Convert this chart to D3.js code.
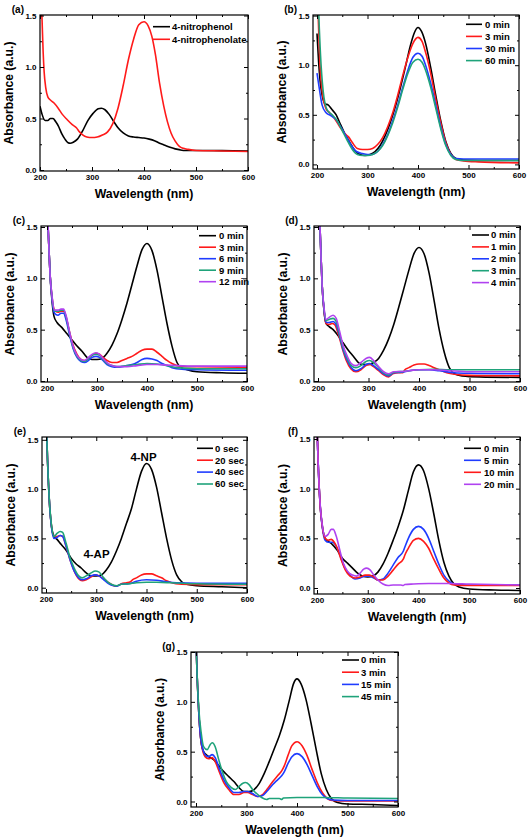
<!DOCTYPE html>
<html><head><meta charset="utf-8">
<script src="https://cdnjs.cloudflare.com/ajax/libs/d3/7.8.5/d3.min.js"></script>
<style>
html,body{margin:0;padding:0;background:#fff;}
svg{display:block;font-family:"Liberation Sans",Arial,sans-serif;font-weight:bold;}
</style></head>
<body>
<svg id="chart" width="529" height="840"></svg>
<script>
// ---------------- DATA ----------------
const panelLabels = ["(a)","(b)","(c)","(d)","(e)","(f)","(g)"];
const xMajorTicks = [200,300,400,500,600];
const xMinorTicks = [250,350,450,550];
const yMajorTicks = [0,0.5,1.0,1.5];
const yMinorTicks = [0.25,0.75,1.25];
const xTitle = "Wavelength (nm)";
const yTitle = "Absorbance (a.u.)";
const seriesColors = {black:"#000000", red:"#ff1a1a", blue:"#1f3cff", green:"#1fa37a", violet:"#b042f0"};

// (a)
const aNames = ["4-nitrophenol","4-nitrophenolate"];
const aNitrophenol = [[200,0.62],[204,0.54],[210,0.48],[215,0.48],[220,0.5],[225,0.5],[230,0.47],[236,0.42],[242,0.35],[248,0.3],[254,0.265],[258,0.26],[264,0.27],[272,0.3],[282,0.38],[292,0.48],[302,0.55],[312,0.595],[318,0.6],[325,0.585],[333,0.54],[342,0.47],[350,0.41],[360,0.36],[370,0.33],[380,0.32],[390,0.315],[400,0.31],[410,0.3],[420,0.285],[430,0.26],[440,0.24],[450,0.22],[460,0.205],[470,0.195],[480,0.19],[500,0.19],[550,0.188],[600,0.185]];
const aNitrophenolate = [[202,1.7],[204,1.45],[206,1.15],[208,0.95],[211,0.8],[215,0.71],[220,0.68],[227,0.65],[235,0.6],[243,0.54],[252,0.49],[262,0.44],[270,0.41],[276,0.37],[282,0.34],[290,0.32],[300,0.315],[310,0.32],[320,0.34],[330,0.37],[340,0.45],[350,0.6],[360,0.82],[370,1.07],[380,1.27],[390,1.41],[400,1.44],[408,1.4],[415,1.3],[422,1.12],[430,0.84],[438,0.62],[445,0.47],[452,0.36],[460,0.28],[468,0.23],[476,0.21],[485,0.2],[500,0.19],[550,0.185],[600,0.18]];

// (b)
const bNames = ["0 min","3 min","30 min","60 min"];
const bMin0 = [[200,1.32],[203,1.05],[206,0.85],[210,0.7],[216,0.61],[222,0.6],[230,0.55],[238,0.5],[245,0.42],[255,0.31],[265,0.22],[275,0.14],[285,0.1],[295,0.09],[305,0.1],[315,0.13],[325,0.19],[335,0.29],[345,0.42],[355,0.58],[365,0.77],[375,0.98],[385,1.2],[393,1.33],[400,1.38],[407,1.34],[415,1.22],[425,0.98],[435,0.7],[445,0.44],[455,0.23],[465,0.11],[475,0.06],[490,0.045],[520,0.04],[600,0.04]];
const bMin3 = [[201,1.7],[203,1.4],[205,1.1],[210,0.75],[218,0.56],[225,0.52],[235,0.46],[245,0.38],[255,0.31],[262,0.28],[270,0.22],[280,0.16],[290,0.15],[300,0.15],[310,0.16],[320,0.2],[330,0.27],[340,0.38],[350,0.52],[360,0.7],[370,0.9],[380,1.08],[390,1.22],[400,1.28],[408,1.24],[415,1.13],[425,0.92],[435,0.66],[445,0.42],[455,0.22],[465,0.1],[475,0.05],[490,0.035],[520,0.025],[600,0.015]];
const bMin30 = [[200,0.92],[205,0.75],[210,0.6],[218,0.52],[228,0.49],[238,0.45],[248,0.37],[258,0.28],[268,0.19],[278,0.13],[290,0.11],[300,0.1],[310,0.1],[320,0.13],[330,0.2],[340,0.3],[350,0.44],[360,0.6],[370,0.78],[380,0.95],[390,1.08],[400,1.12],[408,1.09],[415,1.0],[425,0.82],[435,0.6],[445,0.38],[455,0.2],[465,0.1],[475,0.06],[490,0.055],[600,0.055]];
const bMin60 = [[202,1.8],[204,1.45],[207,1.1],[212,0.75],[220,0.55],[230,0.5],[240,0.44],[250,0.34],[260,0.24],[270,0.15],[280,0.1],[290,0.09],[300,0.09],[310,0.1],[320,0.13],[330,0.19],[340,0.29],[350,0.42],[360,0.58],[370,0.76],[380,0.92],[390,1.03],[400,1.06],[408,1.03],[415,0.95],[425,0.78],[435,0.57],[445,0.36],[455,0.19],[465,0.09],[475,0.05],[490,0.04],[600,0.04]];

// (c)
const cNames = ["0 min","3 min","6 min","9 min","12 min"];
const cMin0 = [[200,1.8],[203,1.4],[206,1.05],[210,0.78],[214,0.63],[220,0.57],[230,0.52],[240,0.46],[250,0.4],[260,0.34],[270,0.29],[280,0.23],[290,0.21],[300,0.21],[310,0.22],[320,0.27],[330,0.35],[340,0.46],[350,0.6],[360,0.76],[370,0.94],[380,1.12],[390,1.28],[400,1.34],[410,1.27],[420,1.08],[430,0.82],[440,0.56],[450,0.34],[460,0.18],[468,0.13],[480,0.11],[500,0.09],[550,0.08],[600,0.075]];
const cMin3 = [[200,1.8],[203,1.4],[206,1.05],[210,0.82],[215,0.69],[222,0.67],[228,0.68],[233,0.68],[238,0.62],[245,0.48],[252,0.35],[260,0.26],[268,0.21],[275,0.2],[283,0.22],[290,0.25],[298,0.27],[305,0.26],[312,0.23],[320,0.2],[330,0.18],[340,0.18],[350,0.2],[360,0.22],[370,0.24],[380,0.27],[390,0.3],[400,0.31],[410,0.31],[420,0.28],[430,0.24],[440,0.2],[450,0.17],[460,0.15],[480,0.14],[500,0.14],[600,0.135]];
const cMin6 = [[200,1.8],[203,1.4],[206,1.05],[210,0.8],[215,0.66],[222,0.64],[228,0.66],[233,0.66],[238,0.6],[245,0.45],[252,0.32],[260,0.23],[268,0.19],[275,0.18],[283,0.2],[290,0.23],[298,0.24],[305,0.23],[312,0.2],[320,0.16],[330,0.14],[340,0.135],[350,0.14],[360,0.15],[370,0.16],[380,0.18],[390,0.21],[400,0.22],[410,0.215],[420,0.2],[430,0.17],[440,0.15],[450,0.13],[470,0.115],[500,0.11],[600,0.105]];
const cMin9 = [[200,1.8],[203,1.4],[206,1.05],[210,0.82],[215,0.68],[222,0.68],[228,0.69],[233,0.69],[238,0.63],[245,0.47],[252,0.33],[260,0.24],[268,0.2],[275,0.19],[283,0.22],[290,0.25],[298,0.26],[305,0.25],[312,0.21],[320,0.17],[330,0.15],[340,0.14],[360,0.15],[380,0.16],[400,0.17],[420,0.165],[440,0.15],[460,0.13],[500,0.12],[600,0.12]];
const cMin12 = [[200,1.8],[203,1.4],[206,1.05],[210,0.83],[215,0.69],[222,0.69],[228,0.7],[233,0.7],[238,0.64],[245,0.48],[252,0.34],[260,0.25],[268,0.21],[275,0.2],[283,0.23],[290,0.26],[298,0.275],[305,0.26],[312,0.22],[320,0.18],[330,0.15],[340,0.14],[360,0.14],[380,0.15],[400,0.16],[420,0.16],[440,0.155],[460,0.15],[500,0.145],[600,0.145]];

// (d)
const dNames = ["0 min","1 min","2 min","3 min","4 min"];
const dMin0 = [[202,1.8],[205,1.35],[208,0.95],[212,0.68],[216,0.56],[222,0.53],[230,0.5],[240,0.44],[250,0.37],[260,0.3],[270,0.24],[280,0.18],[290,0.16],[300,0.16],[310,0.18],[320,0.22],[330,0.3],[340,0.41],[350,0.55],[360,0.72],[370,0.9],[380,1.08],[390,1.24],[400,1.3],[410,1.24],[420,1.05],[430,0.78],[440,0.5],[450,0.28],[460,0.13],[470,0.07],[485,0.05],[520,0.04],[600,0.035]];
const dMin1 = [[202,1.8],[205,1.35],[208,0.95],[212,0.68],[216,0.56],[222,0.55],[228,0.56],[233,0.55],[240,0.46],[248,0.32],[256,0.2],[265,0.12],[275,0.09],[285,0.11],[295,0.15],[302,0.16],[310,0.14],[320,0.1],[330,0.06],[340,0.04],[348,0.07],[360,0.08],[368,0.08],[372,0.11],[380,0.13],[390,0.155],[400,0.165],[410,0.165],[420,0.15],[430,0.13],[440,0.11],[455,0.08],[470,0.065],[500,0.055],[600,0.05]];
const dMin2 = [[202,1.8],[205,1.35],[208,0.95],[212,0.69],[216,0.57],[222,0.57],[230,0.58],[236,0.55],[242,0.45],[250,0.3],[258,0.2],[266,0.13],[275,0.1],[285,0.12],[295,0.16],[302,0.17],[310,0.15],[320,0.11],[330,0.07],[340,0.05],[350,0.08],[365,0.085],[372,0.09],[380,0.1],[400,0.11],[420,0.11],[440,0.1],[470,0.08],[500,0.075],[600,0.07]];
const dMin3 = [[202,1.8],[205,1.35],[208,0.95],[212,0.7],[216,0.59],[222,0.6],[230,0.61],[236,0.58],[242,0.47],[250,0.32],[258,0.22],[266,0.15],[275,0.13],[285,0.15],[295,0.19],[302,0.2],[310,0.18],[320,0.13],[330,0.08],[340,0.06],[350,0.085],[372,0.095],[380,0.1],[400,0.11],[430,0.115],[460,0.11],[500,0.11],[600,0.11]];
const dMin4 = [[202,1.8],[205,1.35],[208,0.95],[212,0.71],[216,0.6],[222,0.62],[230,0.64],[236,0.61],[242,0.5],[250,0.34],[258,0.24],[266,0.17],[275,0.15],[285,0.18],[295,0.22],[302,0.23],[310,0.2],[320,0.14],[330,0.09],[340,0.07],[350,0.09],[372,0.095],[380,0.1],[400,0.11],[430,0.11],[460,0.1],[500,0.09],[600,0.09]];

// (e)
const eNames = ["0 sec","20 sec","40 sec","60 sec"];
const eNotes = ["4-NP","4-AP"];
const eSec0 = [[200,1.8],[203,1.3],[207,0.85],[211,0.62],[216,0.52],[222,0.49],[230,0.44],[240,0.38],[250,0.3],[260,0.24],[270,0.2],[280,0.15],[290,0.12],[300,0.12],[310,0.13],[320,0.18],[330,0.26],[340,0.37],[350,0.5],[360,0.65],[370,0.8],[380,1.0],[390,1.18],[400,1.26],[410,1.2],[420,1.02],[430,0.76],[440,0.5],[450,0.28],[460,0.13],[470,0.06],[480,0.035],[500,0.02],[550,0.01],[600,0.0]];
const eSec20 = [[200,1.8],[203,1.3],[207,0.85],[211,0.62],[216,0.52],[222,0.52],[228,0.53],[233,0.52],[240,0.42],[248,0.28],[256,0.17],[265,0.09],[272,0.07],[280,0.08],[290,0.11],[298,0.13],[305,0.12],[315,0.09],[325,0.05],[335,0.02],[340,0.015],[350,0.04],[360,0.05],[368,0.06],[372,0.08],[380,0.1],[390,0.13],[400,0.14],[410,0.14],[420,0.12],[430,0.1],[440,0.07],[450,0.05],[470,0.035],[500,0.03],[600,0.03]];
const eSec40 = [[200,1.8],[203,1.3],[207,0.85],[211,0.61],[216,0.5],[222,0.51],[228,0.53],[233,0.52],[240,0.42],[248,0.28],[256,0.17],[265,0.1],[272,0.08],[280,0.09],[290,0.12],[298,0.13],[305,0.12],[315,0.08],[325,0.04],[335,0.02],[340,0.015],[350,0.035],[365,0.04],[372,0.05],[380,0.065],[400,0.08],[420,0.075],[440,0.06],[460,0.05],[500,0.045],[600,0.045]];
const eSec60 = [[200,1.8],[203,1.3],[207,0.86],[211,0.63],[216,0.52],[222,0.55],[228,0.57],[233,0.56],[240,0.45],[248,0.3],[256,0.2],[265,0.12],[272,0.1],[280,0.12],[290,0.15],[298,0.17],[305,0.16],[315,0.1],[325,0.05],[335,0.025],[340,0.02],[350,0.035],[365,0.04],[372,0.045],[380,0.05],[400,0.055],[420,0.055],[450,0.05],[500,0.04],[600,0.035]];

// (f)
const fNames = ["0 min","5 min","10 min","20 min"];
const fMin0 = [[199,1.8],[202,1.3],[206,0.85],[210,0.64],[216,0.5],[222,0.47],[230,0.44],[240,0.38],[250,0.3],[260,0.25],[270,0.2],[280,0.15],[290,0.12],[300,0.11],[310,0.12],[320,0.16],[330,0.24],[340,0.35],[350,0.48],[360,0.62],[370,0.78],[380,0.98],[390,1.17],[400,1.24],[410,1.18],[420,1.0],[430,0.75],[440,0.48],[450,0.26],[460,0.12],[470,0.04],[480,0.01],[500,-0.01],[550,-0.02],[600,-0.025]];
const fMin5 = [[199,1.8],[202,1.3],[206,0.85],[210,0.63],[216,0.48],[222,0.46],[230,0.46],[238,0.42],[246,0.32],[255,0.2],[265,0.13],[275,0.09],[285,0.1],[295,0.12],[303,0.12],[312,0.1],[320,0.08],[330,0.09],[340,0.15],[350,0.23],[360,0.31],[370,0.37],[373,0.41],[380,0.5],[390,0.59],[400,0.62],[410,0.59],[420,0.5],[430,0.37],[440,0.24],[450,0.13],[460,0.07],[470,0.04],[500,0.03],[600,0.03]];
const fMin10 = [[199,1.8],[202,1.3],[206,0.85],[210,0.64],[216,0.5],[222,0.48],[228,0.49],[234,0.46],[240,0.4],[248,0.28],[256,0.18],[265,0.12],[275,0.1],[285,0.11],[295,0.13],[303,0.13],[312,0.11],[320,0.08],[330,0.08],[340,0.12],[350,0.18],[360,0.24],[370,0.29],[373,0.33],[380,0.4],[390,0.48],[400,0.5],[410,0.47],[420,0.4],[430,0.29],[440,0.19],[450,0.1],[460,0.05],[470,0.03],[500,0.025],[600,0.025]];
const fMin20 = [[199,1.8],[202,1.3],[206,0.86],[210,0.65],[216,0.52],[222,0.54],[228,0.59],[232,0.59],[238,0.52],[245,0.38],[252,0.25],[260,0.17],[270,0.13],[278,0.12],[285,0.15],[292,0.19],[298,0.2],[305,0.18],[312,0.13],[320,0.08],[330,0.04],[340,0.025],[350,0.03],[365,0.03],[370,0.025],[373,0.035],[390,0.04],[420,0.045],[460,0.045],[500,0.04],[600,0.03]];

// (g)
const gNames = ["0 min","3 min","15 min","45 min"];
const gMin0 = [[199,1.8],[202,1.3],[206,0.85],[210,0.6],[215,0.5],[225,0.45],[235,0.42],[245,0.36],[255,0.3],[265,0.25],[275,0.2],[285,0.14],[295,0.1],[305,0.1],[315,0.12],[325,0.18],[335,0.28],[345,0.4],[355,0.53],[365,0.66],[375,0.82],[385,1.02],[393,1.18],[400,1.23],[408,1.18],[418,1.02],[428,0.78],[438,0.52],[448,0.28],[458,0.12],[468,0.03],[480,-0.01],[500,-0.025],[550,-0.03],[600,-0.04]];
const gMin3 = [[199,1.8],[202,1.3],[206,0.85],[210,0.6],[218,0.45],[225,0.43],[232,0.44],[238,0.4],[246,0.3],[255,0.19],[265,0.12],[275,0.07],[285,0.07],[295,0.09],[302,0.09],[312,0.07],[322,0.05],[332,0.07],[342,0.13],[352,0.2],[362,0.26],[370,0.31],[375,0.36],[382,0.46],[390,0.56],[400,0.6],[410,0.56],[420,0.46],[430,0.32],[440,0.19],[450,0.09],[460,0.03],[470,0.01],[500,0.005],[600,0.005]];
const gMin15 = [[199,1.8],[202,1.3],[206,0.85],[210,0.61],[218,0.47],[225,0.45],[232,0.47],[238,0.44],[246,0.33],[255,0.22],[265,0.14],[275,0.09],[285,0.09],[295,0.1],[302,0.1],[312,0.08],[322,0.05],[332,0.06],[342,0.11],[352,0.17],[362,0.22],[370,0.26],[375,0.3],[382,0.38],[390,0.45],[400,0.48],[410,0.45],[420,0.37],[430,0.26],[440,0.15],[450,0.07],[460,0.03],[470,0.015],[500,0.01],[600,0.01]];
const gMin45 = [[199,1.8],[202,1.3],[206,0.9],[210,0.7],[215,0.55],[222,0.52],[228,0.57],[232,0.59],[238,0.55],[245,0.42],[252,0.3],[260,0.2],[270,0.14],[278,0.12],[285,0.15],[292,0.18],[298,0.19],[305,0.17],[312,0.12],[320,0.08],[330,0.04],[340,0.02],[345,0.03],[365,0.03],[370,0.02],[373,0.035],[400,0.04],[450,0.04],[500,0.035],[600,0.03]];

// ---------------- LAYOUT ----------------
const panels = [
  {label:panelLabels[0], box:{l:40,r:248,t:15,b:171}, x200:40, x600:248, y0:170, y15:15.5,
   series:[aNitrophenol,aNitrophenolate], names:aNames, colors:["black","red"],
   legend:{x1:153,x2:170,tx:172,y:26.7,dy:12.6}},
  {label:panelLabels[1], box:{l:313,r:519,t:15,b:169}, x200:317, x600:519, y0:164.4, y15:15.6,
   series:[bMin0,bMin3,bMin30,bMin60], names:bNames, colors:["black","red","blue","green"],
   legend:{x1:466,x2:482,tx:485,y:24.3,dy:12.1}},
  {label:panelLabels[2], box:{l:41,r:247,t:226,b:382}, x200:47, x600:247, y0:381, y15:227,
   series:[cMin0,cMin3,cMin6,cMin9,cMin12], names:cNames, colors:["black","red","blue","green","violet"],
   legend:{x1:199,x2:216,tx:219,y:235.7,dy:11.5}},
  {label:panelLabels[3], box:{l:314,r:520,t:226,b:382}, x200:318, x600:520, y0:381, y15:227,
   series:[dMin0,dMin1,dMin2,dMin3,dMin4], names:dNames, colors:["black","red","blue","green","violet"],
   legend:{x1:472,x2:489,tx:491,y:235,dy:11.9}},
  {label:panelLabels[4], box:{l:42,r:247,t:437,b:593}, x200:46, x600:247, y0:587.7, y15:439.8,
   series:[eSec0,eSec20,eSec40,eSec60], names:eNames, colors:["black","red","blue","green"],
   legend:{x1:197,x2:213,tx:215,y:448.3,dy:11.9},
   notes:[{t:eNotes[0],x:143.5,y:461},{t:eNotes[1],x:96.5,y:558}]},
  {label:panelLabels[5], box:{l:314,r:520,t:437,b:594}, x200:317, x600:520, y0:588, y15:439,
   series:[fMin0,fMin5,fMin10,fMin20], names:fNames, colors:["black","blue","red","violet"],
   legend:{x1:464,x2:481,tx:484,y:448.3,dy:12}},
  {label:panelLabels[6], box:{l:191,r:398,t:652,b:807}, x200:196, x600:398, y0:801.5, y15:652,
   series:[gMin0,gMin3,gMin15,gMin45], names:gNames, colors:["black","red","blue","green"],
   legend:{x1:342,x2:359,tx:361,y:660,dy:12.2}}
];

const svg = d3.select("#chart");

panels.forEach((p, i) => {
  const g = svg.append("g");
  const b = p.box;
  const x = d3.scaleLinear().domain([200,600]).range([p.x200,p.x600]);
  const y = d3.scaleLinear().domain([0,1.5]).range([p.y0,p.y15]);
  const xIn = v => x(v) >= b.l - 0.1 && x(v) <= b.r + 0.1;
  const yIn = v => y(v) >= b.t - 0.1 && y(v) <= b.b + 0.1;

  const clipId = "clip" + i;
  g.append("clipPath").attr("id", clipId).append("rect")
    .attr("x", b.l).attr("y", b.t).attr("width", b.r - b.l).attr("height", b.b - b.t);

  // curves
  const line = d3.line().x(d => x(d[0])).y(d => y(d[1])).curve(d3.curveMonotoneX);
  const cg = g.append("g").attr("clip-path", `url(#${clipId})`);
  p.series.forEach((s, k) => {
    cg.append("path").datum(s).attr("d", line)
      .attr("fill","none").attr("stroke", seriesColors[p.colors[k]])
      .attr("stroke-width",1.6).attr("stroke-linejoin","round");
  });

  // axes (ticks inward)
  function addAxis(axisFn, scale, vals, size, labels, tx, ty) {
    const horiz = (axisFn===d3.axisBottom||axisFn===d3.axisTop);
    const a = axisFn(scale).tickValues(vals.filter(v => horiz ? xIn(v) : yIn(v)))
      .tickSizeInner(-size).tickSizeOuter(0).tickPadding(labels ? 3.5 : 0);
    if (labels) a.tickFormat(labels); else a.tickFormat("");
    const ag = g.append("g").attr("transform", `translate(${tx},${ty})`).call(a);
    ag.select(".domain").remove();
    ag.selectAll("line").attr("stroke","#000").attr("stroke-width",1);
    ag.selectAll("text").attr("fill","#000").style("font-size","8px").style("font-weight","bold")
      .style("font-family","'Liberation Sans',Arial,sans-serif");
    return ag;
  }
  addAxis(d3.axisBottom, x, xMajorTicks, 4, d3.format("d"), 0, b.b);
  addAxis(d3.axisBottom, x, xMinorTicks, 2, null, 0, b.b);
  addAxis(d3.axisTop, x, xMajorTicks, 4, null, 0, b.t);
  addAxis(d3.axisTop, x, xMinorTicks, 2, null, 0, b.t);
  addAxis(d3.axisLeft, y, yMajorTicks, 4, d3.format(".1f"), b.l, 0);
  addAxis(d3.axisLeft, y, yMinorTicks, 2, null, b.l, 0);
  addAxis(d3.axisRight, y, yMajorTicks, 4, null, b.r, 0);
  addAxis(d3.axisRight, y, yMinorTicks, 2, null, b.r, 0);

  // frame
  g.append("rect").attr("x", b.l).attr("y", b.t).attr("width", b.r - b.l).attr("height", b.b - b.t)
    .attr("fill","none").attr("stroke","#000").attr("stroke-width",1.2);

  // titles
  g.append("text").attr("x", (b.l + b.r) / 2).attr("y", b.b + 27)
    .attr("text-anchor","middle").style("font-size","12.3px").text(xTitle);
  g.append("text").attr("transform", `translate(${b.l - 27},${(b.t + b.b) / 2}) rotate(-90)`)
    .attr("text-anchor","middle").style("font-size","12.2px").text(yTitle);
  g.append("text").attr("x", b.l - 16).attr("y", b.t - 2.5)
    .attr("text-anchor","end").style("font-size","10px").text(p.label);

  // legend
  const L = p.legend;
  p.names.forEach((n, k) => {
    const yy = L.y + k * L.dy;
    g.append("line").attr("x1", L.x1).attr("x2", L.x2).attr("y1", yy).attr("y2", yy)
      .attr("stroke", seriesColors[p.colors[k]]).attr("stroke-width",1.6);
    g.append("text").attr("x", L.tx).attr("y", yy).attr("dy","0.35em")
      .style("font-size","9.5px").text(n);
  });

  // annotations
  (p.notes || []).forEach(nt => {
    g.append("text").attr("x", nt.x).attr("y", nt.y).attr("text-anchor","middle")
      .style("font-size","11.5px").text(nt.t);
  });
});
</script>
</body></html>
